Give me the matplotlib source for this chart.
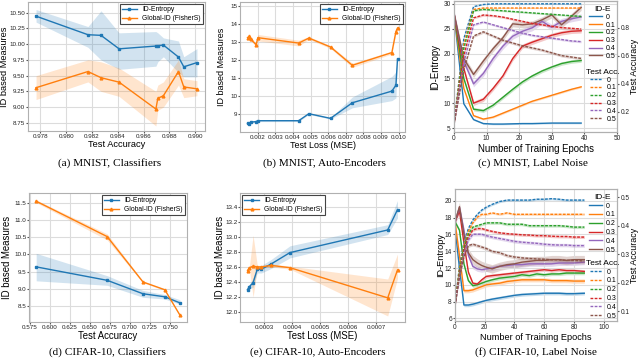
import numpy as np
import matplotlib
matplotlib.use('Agg')
import matplotlib.pyplot as plt

plt.rcParams['font.family'] = ['Liberation Sans', 'DejaVu Sans']
plt.rcParams['axes.edgecolor'] = '#b0b0b0'
plt.rcParams['axes.linewidth'] = 0.8
plt.rcParams['grid.color'] = '#dcdcdc'
plt.rcParams['grid.linewidth'] = 0.8
plt.rcParams['xtick.color'] = '#555555'
plt.rcParams['ytick.color'] = '#555555'
plt.rcParams['xtick.labelcolor'] = '#222222'
plt.rcParams['ytick.labelcolor'] = '#222222'
plt.rcParams['xtick.major.size'] = 1.3
plt.rcParams['ytick.major.size'] = 1.3

# ---- (a) MNIST, Classifiers
a_x = [0.97767, 0.98169, 0.98270, 0.98410, 0.98695, 0.98710, 0.98753, 0.98870, 0.98911, 0.99013]
a_ent = [10.445, 10.15, 10.14, 9.926, 9.97, 9.975, 9.986, 9.795, 9.64, 9.707]
a_ent_hi = [10.55, 10.28, 10.53, 10.18, 10.20, 10.18, 10.10, 10.05, 9.80, 9.93]
a_ent_lo = [10.35, 9.95, 9.75, 9.60, 9.65, 9.72, 9.80, 9.55, 9.48, 9.48]
a_gid = [9.308, 9.565, 9.467, 9.396, 8.969, 9.14, 9.18, 9.565, 9.32, 9.29]
a_gid_hi = [9.50, 9.75, 9.72, 9.62, 9.25, 9.35, 9.40, 9.75, 9.45, 9.42]
a_gid_lo = [9.12, 9.40, 9.25, 9.17, 8.70, 8.95, 9.00, 9.35, 9.15, 9.18]

# ---- (b) MNIST, Auto-Encoders
b_x = [0.00141, 0.00150, 0.00160, 0.00190, 0.00200, 0.00432, 0.00490, 0.00613, 0.00737, 0.00962, 0.00985, 0.00994]
b_ent = [8.48, 8.42, 8.55, 8.58, 8.63, 8.63, 9.02, 8.76, 9.63, 10.28, 10.61, 12.06]
b_ent_hi = [8.52, 8.46, 8.60, 8.62, 8.68, 8.68, 9.06, 8.80, 9.95, 11.10, 11.35, 12.10]
b_ent_lo = [8.44, 8.38, 8.50, 8.54, 8.58, 8.58, 8.98, 8.72, 9.35, 9.75, 9.90, 12.00]
b_gid = [13.26, 13.33, 13.17, 12.87, 13.26, 12.96, 13.24, 12.74, 11.72, 12.43, 13.60, 13.80]
b_gid_hi = [13.34, 13.41, 13.25, 12.97, 13.44, 13.12, 13.32, 12.82, 11.84, 12.51, 13.70, 13.90]
b_gid_lo = [13.18, 13.25, 13.09, 12.77, 13.08, 12.80, 13.16, 12.66, 11.60, 12.35, 13.50, 13.70]

# ---- (d) CIFAR-10, Classifiers
d_x = [0.5833, 0.6716, 0.7162, 0.7433, 0.7620]
d_ent = [9.637, 9.245, 8.853, 8.765, 8.588]
d_ent_hi = [10.03, 9.38, 8.95, 8.83, 8.68]
d_ent_lo = [9.23, 9.10, 8.75, 8.70, 8.55]
d_gid = [11.55, 10.52, 9.196, 8.97, 8.235]
d_gid_hi = [11.59, 10.60, 9.22, 8.99, 8.25]
d_gid_lo = [11.51, 10.42, 9.17, 8.95, 8.22]

# ---- (e) CIFAR-10, Auto-Encoders
e_x = [0.000240, 0.000247, 0.000260, 0.000275, 0.000290, 0.000325, 0.000392, 0.000742, 0.000777]
e_ent = [12.30, 12.34, 12.39, 12.57, 12.57, 12.64, 12.79, 13.09, 13.36]
e_ent_hi = [12.32, 12.37, 12.45, 12.62, 12.62, 12.70, 12.88, 13.16, 13.48]
e_ent_lo = [12.28, 12.31, 12.33, 12.52, 12.52, 12.58, 12.72, 13.03, 13.25]
e_gid = [12.55, 12.59, 12.61, 12.60, 12.60, 12.62, 12.59, 12.19, 12.56]
e_gid_hi = [12.57, 12.61, 13.02, 12.62, 12.62, 12.64, 12.61, 12.44, 12.77]
e_gid_lo = [12.53, 12.57, 12.20, 12.58, 12.58, 12.60, 12.57, 11.95, 12.45]

# ---- (c) MNIST, Label Noise
noise = ['0', '0.1', '0.2', '0.3', '0.4', '0.5']
c_epochs = [0, 3, 6, 9, 12, 15, 18, 21, 24, 27, 30, 33, 36, 39]
c_ent = [
    [28.1, 9.9, 6.7, 5.9, 5.8, 5.8, 5.85, 5.9, 5.9, 5.95, 6.0, 6.0, 6.0, 6.0],
    [28.1, 13.0, 7.5, 6.8, 7.2, 8.0, 8.8, 9.6, 10.4, 11.0, 11.6, 12.2, 12.8, 13.3],
    [28.1, 15.0, 8.8, 8.5, 9.6, 11.2, 12.8, 14.3, 15.5, 16.5, 17.3, 18.0, 18.4, 18.6],
    [28.1, 17.0, 10.0, 10.8, 13.0, 15.5, 19.0, 21.5, 22.3, 23.0, 23.7, 24.2, 24.5, 24.6],
    [28.1, 18.5, 13.9, 16.0, 19.0, 21.5, 23.5, 24.5, 25.2, 26.5, 25.3, 26.5, 27.0, 27.4],
    [28.1, 19.0, 15.8, 18.5, 21.0, 23.2, 26.0, 25.8, 26.0, 26.8, 27.8, 25.8, 27.5, 29.3],
]
c_acc = [
    [0.11, 0.72, 0.95, 0.965, 0.97, 0.97, 0.97, 0.97, 0.97, 0.97, 0.97, 0.97, 0.97, 0.97],
    [0.11, 0.68, 0.93, 0.94, 0.94, 0.94, 0.94, 0.94, 0.94, 0.94, 0.94, 0.94, 0.94, 0.94],
    [0.11, 0.65, 0.92, 0.93, 0.925, 0.92, 0.915, 0.91, 0.905, 0.90, 0.895, 0.89, 0.885, 0.88],
    [0.11, 0.60, 0.87, 0.89, 0.885, 0.875, 0.86, 0.845, 0.83, 0.82, 0.81, 0.80, 0.795, 0.79],
    [0.11, 0.55, 0.82, 0.84, 0.82, 0.80, 0.78, 0.76, 0.745, 0.735, 0.725, 0.715, 0.705, 0.70],
    [0.11, 0.50, 0.74, 0.77, 0.74, 0.71, 0.69, 0.67, 0.655, 0.64, 0.62, 0.60, 0.59, 0.58],
]
c_ent_sd = [0.15, 0.2, 0.35, 0.45, 0.6, 0.6]
c_acc_sd = [0.003, 0.004, 0.006, 0.008, 0.008, 0.01]

# ---- (f) CIFAR-10, Label Noise
f_epochs = [0, 3, 6, 9, 12, 15, 18, 21, 25, 30, 35, 40, 45, 50, 55, 60, 65, 70, 75, 80, 87]
f_ent = [
    [16.8, 12.0, 7.6, 7.6, 7.7, 7.85, 8.0, 8.15, 8.3, 8.45, 8.6, 8.75, 8.85, 8.9, 8.95, 9.0, 9.0, 9.0, 8.95, 8.95, 9.0],
    [17.5, 13.5, 9.3, 9.3, 9.4, 9.6, 9.8, 10.0, 10.1, 10.2, 10.4, 10.5, 10.6, 10.6, 10.6, 10.6, 10.5, 10.5, 10.5, 10.45, 10.45],
    [17.5, 16.5, 12.5, 10.5, 9.9, 10.0, 10.2, 10.4, 10.6, 10.8, 10.9, 11.0, 11.2, 11.1, 11.3, 11.2, 11.3, 11.3, 11.4, 11.4, 11.4],
    [17.5, 18.8, 15.0, 11.5, 10.2, 10.1, 10.6, 11.0, 11.1, 11.2, 11.3, 11.4, 11.5, 11.6, 11.7, 11.8, 11.7, 11.8, 11.7, 11.7, 11.6],
    [17.5, 19.2, 16.5, 13.5, 12.2, 11.9, 11.8, 11.9, 12.0, 12.2, 12.3, 12.4, 12.4, 12.5, 12.5, 12.5, 12.5, 12.6, 12.6, 12.6, 12.7],
    [17.5, 19.3, 16.0, 13.8, 13.0, 12.6, 12.3, 12.1, 11.9, 12.2, 12.4, 12.5, 12.7, 12.8, 12.9, 12.9, 13.0, 13.0, 12.9, 13.0, 13.0],
]
f_acc = [
    [0.12, 0.26, 0.34, 0.39, 0.42, 0.44, 0.455, 0.465, 0.475, 0.485, 0.49, 0.49, 0.49, 0.49, 0.493, 0.493, 0.495, 0.493, 0.49, 0.49, 0.49],
    [0.12, 0.25, 0.33, 0.38, 0.41, 0.43, 0.44, 0.44, 0.445, 0.44, 0.445, 0.44, 0.44, 0.44, 0.44, 0.44, 0.44, 0.44, 0.44, 0.44, 0.44],
    [0.12, 0.24, 0.32, 0.37, 0.395, 0.40, 0.405, 0.41, 0.41, 0.41, 0.405, 0.405, 0.405, 0.40, 0.40, 0.40, 0.40, 0.40, 0.398, 0.395, 0.395],
    [0.12, 0.23, 0.31, 0.36, 0.385, 0.39, 0.39, 0.385, 0.38, 0.375, 0.372, 0.37, 0.368, 0.367, 0.365, 0.365, 0.363, 0.362, 0.362, 0.36, 0.36],
    [0.12, 0.22, 0.30, 0.35, 0.37, 0.37, 0.37, 0.365, 0.36, 0.355, 0.35, 0.345, 0.342, 0.34, 0.338, 0.335, 0.333, 0.332, 0.332, 0.33, 0.33],
    [0.12, 0.22, 0.29, 0.33, 0.335, 0.33, 0.325, 0.32, 0.31, 0.305, 0.295, 0.29, 0.287, 0.285, 0.283, 0.282, 0.28, 0.28, 0.278, 0.278, 0.276],
]
f_ent_sd = [0.2, 0.25, 0.2, 0.2, 0.3, 0.5]
f_acc_sd = [0.004, 0.004, 0.005, 0.005, 0.006, 0.006]

captions = ['(a) MNIST, Classifiers', '(b) MNIST, Auto-Encoders', '(c) MNIST, Label Noise',
            '(d) CIFAR-10, Classifiers', '(e) CIFAR-10, Auto-Encoders', '(f) CIFAR-10, Label Noise']

colors = ['C0', 'C1', 'C2', 'C3', 'C4', 'C5']

W, H = 640, 359
fig = plt.figure(figsize=(W / 100, H / 100), dpi=100)


def box(l, r, t, b):
    return [l / W, (H - b) / H, (r - l) / W, (b - t) / H]


def id_panel(ax, x, ent, ent_lo, ent_hi, gid, gid_lo, gid_hi, xlabel, ylim, loc, fs, ylab_x):
    ax.fill_between(x, ent_lo, ent_hi, color='C0', alpha=0.2, linewidth=0)
    ax.fill_between(x, gid_lo, gid_hi, color='C1', alpha=0.2, linewidth=0)
    ax.plot(x, ent, color='C0', marker='s', markersize=2, linewidth=1, label='ID-Entropy')
    ax.plot(x, gid, color='C1', marker='^', markersize=2, linewidth=1, label='Global-ID (FisherS)')
    ax.set_ylim(ylim)
    ax.grid(True)
    ax.set_axisbelow(True)
    ax.tick_params(labelsize=4.5, pad=0.7)
    ax.set_xlabel(xlabel, fontsize=fs, labelpad=1)
    ax.set_ylabel('ID based Measures', fontsize=fs)
    ax.yaxis.set_label_coords(ylab_x, 0.5)
    leg = ax.legend(loc=loc, fontsize=4.9, fancybox=False, framealpha=1,
                    borderpad=0.3, handlelength=2.2, labelspacing=0.3,
                    borderaxespad=0.3)
    leg.get_frame().set_edgecolor('#444444')
    leg.get_frame().set_linewidth(0.8)


def noise_panel(ax, epochs, ent, ent_sd, acc, acc_sd, xlim, ylim, ylim2, yticks2, spacing, y2, ylab_x, fs):
    ax2 = ax.twinx()
    h1, h2 = [], []
    for i in range(6):
        y = np.array(ent[i])
        ax.fill_between(epochs, y - ent_sd[i], y + ent_sd[i], color=colors[i], alpha=0.25, linewidth=0)
        line, = ax.plot(epochs, y, color=colors[i], linewidth=1, label=noise[i])
        h1.append(line)
        z = np.array(acc[i])
        ax2.fill_between(epochs, z - acc_sd[i], z + acc_sd[i], color=colors[i], alpha=0.25, linewidth=0)
        line, = ax2.plot(epochs, z, color=colors[i], linewidth=1, linestyle=(0, (2, 1)), label=noise[i])
        h2.append(line)
    ax.set_xlim(xlim)
    ax.set_ylim(ylim)
    ax2.set_ylim(ylim2)
    ax2.set_yticks(yticks2)
    ax.grid(True)
    ax2.grid(False)
    ax.tick_params(labelsize=4.7, pad=1)
    ax2.tick_params(labelsize=4.7, pad=1.5)
    ax.set_xlabel('Number of Training Epochs', fontsize=fs, labelpad=1)
    ax.set_ylabel('ID-Entropy', fontsize=fs)
    ax.yaxis.set_label_coords(ylab_x, 0.5)
    ax2.set_ylabel('Test Accuracy', fontsize=6.4, labelpad=0.3)
    leg1 = ax2.legend(handles=h1, title='ID-E', loc='upper left', bbox_to_anchor=(0.80, 1.0),
                      frameon=False, fontsize=5, title_fontsize=6, handlelength=1.8,
                      labelspacing=spacing, borderpad=0.2, handletextpad=0.6)
    ax2.add_artist(leg1)
    ax2.legend(handles=h2, title='Test Acc.', loc='upper left', bbox_to_anchor=(0.78, y2),
               frameon=False, fontsize=5, title_fontsize=6, handlelength=1.8,
               labelspacing=spacing, borderpad=0.2, handletextpad=0.6)


ax_a = fig.add_axes(box(28, 205, 2, 131))
id_panel(ax_a, a_x, a_ent, a_ent_lo, a_ent_hi, a_gid, a_gid_lo, a_gid_hi,
         'Test Accuracy', (8.62, 10.67), 'upper right', 6.7, -0.106)
ax_a.set_xticks([0.978, 0.980, 0.982, 0.984, 0.986, 0.988, 0.990])
ax_a.set_yticks([8.75, 9.0, 9.25, 9.5, 9.75, 10.0, 10.25, 10.5])

ax_b = fig.add_axes(box(240, 405, 2, 132))
id_panel(ax_b, b_x, b_ent, b_ent_lo, b_ent_hi, b_gid, b_gid_lo, b_gid_hi,
         'Test Loss (MSE)', (8.0, 15.25), 'upper right', 6.5, -0.085)
ax_b.set_xticks([0.002, 0.003, 0.004, 0.005, 0.006, 0.007, 0.008, 0.009, 0.010])
ax_b.set_yticks([9, 10, 11, 12, 13, 14, 15])

ax_c = fig.add_axes(box(454, 617, 1, 132))
noise_panel(ax_c, c_epochs, c_ent, c_ent_sd, c_acc, c_acc_sd, (0, 50), (4.2, 30.6),
            (0.055, 0.99), [0.2, 0.4, 0.6, 0.8], 0.12, 0.52, -0.085, 6.9)
ax_c.spines['top'].set_color('#666666')

ax_d = fig.add_axes(box(29, 187, 193, 322))
id_panel(ax_d, d_x, d_ent, d_ent_lo, d_ent_hi, d_gid, d_gid_lo, d_gid_hi,
         'Test Accuracy', (8.03, 11.79), 'upper right', 6.9, -0.105)
ax_d.set_yticks([8.5, 9.0, 9.5, 10.0, 10.5, 11.0, 11.5])

ax_e = fig.add_axes(box(240, 405, 193, 322))
id_panel(ax_e, e_x, e_ent, e_ent_lo, e_ent_hi, e_gid, e_gid_lo, e_gid_hi,
         'Test Loss (MSE)', (11.87, 13.58), 'upper left', 6.9, -0.09)
ax_e.set_xticks([0.0003, 0.0004, 0.0005, 0.0006, 0.0007])
ax_e.set_xticklabels(['0.0003', '0.0004', '0.0005', '0.0006', '0.0007'])

ax_f = fig.add_axes(box(455, 617, 189, 321))
noise_panel(ax_f, f_epochs, f_ent, f_ent_sd, f_acc, f_acc_sd, (0, 109), (5.7, 21.4),
            (0.065, 0.529), [0.1, 0.2, 0.3, 0.4, 0.5], 0.26, 0.50, -0.06, 6.6)

cap_pos = [(110, 163), (324, 163), (533, 163), (107, 352), (318, 352), (536, 352)]
for (cx, cy), txt in zip(cap_pos, captions):
    fig.text(cx / W, 1 - cy / H, txt, ha='center', va='center', fontsize=8.1,
             family=['Liberation Serif', 'DejaVu Serif'])

fig.savefig('out.png', dpi=100)
